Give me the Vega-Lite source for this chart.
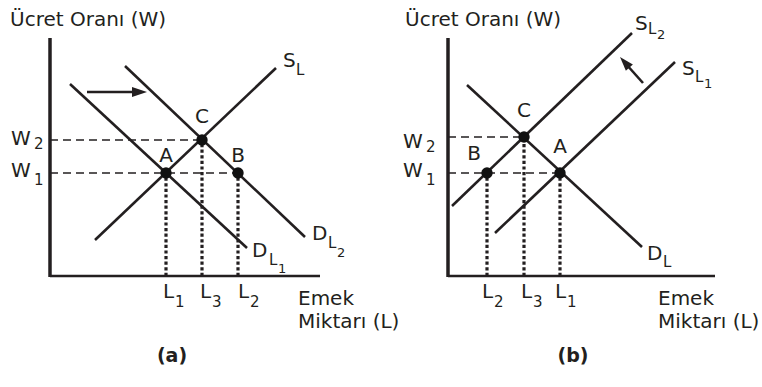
{
  "$schema": "https://vega.github.io/schema/vega-lite/v6.json",
  "autosize": {"type": "pad"},
  "padding": 0,
  "spacing": 0,
  "bounds": "flush",
  "background": "white",
  "config": {"view": {"stroke": null}, "font": "DejaVu Sans", "text": {"font": "DejaVu Sans", "color": "#231f20"}},
  "datasets": {
    "segments": [
      {"panel": "a", "kind": "curve", "x": 20, "y": 192, "x2": 197, "y2": 28},
      {"panel": "a", "kind": "curve", "x": 75, "y": 210, "x2": 255, "y2": 39},
      {"panel": "a", "kind": "curve", "x": 45, "y": 36, "x2": 226, "y2": 208},
      {"panel": "a", "kind": "curve", "x": 37, "y": 184, "x2": 88, "y2": 184},
      {"panel": "a", "kind": "axisY", "x": 0, "y": -1, "x2": 0, "y2": 238},
      {"panel": "a", "kind": "axisX", "x": 0, "y": 0, "x2": 270, "y2": 0},
      {"panel": "a", "kind": "dashed", "x": 0, "y": 136, "x2": 152, "y2": 136},
      {"panel": "a", "kind": "dashed", "x": 0, "y": 103, "x2": 188, "y2": 103},
      {"panel": "a", "kind": "dotted", "x": 116, "y": 0, "x2": 116, "y2": 103},
      {"panel": "a", "kind": "dotted", "x": 152, "y": 0, "x2": 152, "y2": 136},
      {"panel": "a", "kind": "dotted", "x": 188, "y": 0, "x2": 188, "y2": 103},
      {"panel": "b", "kind": "curve", "x": 19, "y": 191, "x2": 194, "y2": 29},
      {"panel": "b", "kind": "curve", "x": 4, "y": 70, "x2": 184, "y2": 243},
      {"panel": "b", "kind": "curve", "x": 47, "y": 43, "x2": 227, "y2": 214},
      {"panel": "b", "kind": "curve", "x": 195, "y": 193, "x2": 178, "y2": 212},
      {"panel": "b", "kind": "axisY", "x": 0, "y": -1, "x2": 0, "y2": 238},
      {"panel": "b", "kind": "axisX", "x": 0, "y": 0, "x2": 267, "y2": 0},
      {"panel": "b", "kind": "dashed", "x": 0, "y": 139, "x2": 76, "y2": 139},
      {"panel": "b", "kind": "dashed", "x": 0, "y": 103, "x2": 112, "y2": 103},
      {"panel": "b", "kind": "dotted", "x": 39, "y": 0, "x2": 39, "y2": 103},
      {"panel": "b", "kind": "dotted", "x": 76, "y": 0, "x2": 76, "y2": 139},
      {"panel": "b", "kind": "dotted", "x": 112, "y": 0, "x2": 112, "y2": 103}
    ],
    "points": [
      {"panel": "a", "name": "A", "x": 116, "y": 103},
      {"panel": "a", "name": "B", "x": 188, "y": 103},
      {"panel": "a", "name": "C", "x": 152, "y": 136},
      {"panel": "b", "name": "C", "x": 76, "y": 139},
      {"panel": "b", "name": "A", "x": 112, "y": 103},
      {"panel": "b", "name": "B", "x": 39, "y": 103}
    ],
    "heads": [
      {"panel": "a", "x": 97, "y": 184},
      {"panel": "b", "x": 172, "y": 219}
    ],
    "labels": [
      {"panel": "a", "kind": "main", "text": "Ücret Oranı (W)", "x": -40, "y": 250},
      {"panel": "a", "kind": "main", "text": "W", "x": -39, "y": 131},
      {"panel": "a", "kind": "main", "text": "W", "x": -39, "y": 99},
      {"panel": "a", "kind": "main", "text": "S", "x": 233, "y": 209},
      {"panel": "a", "kind": "main", "text": "D", "x": 202, "y": 19},
      {"panel": "a", "kind": "main", "text": "D", "x": 262, "y": 36},
      {"panel": "a", "kind": "main", "text": "L", "x": 113, "y": -22},
      {"panel": "a", "kind": "main", "text": "L", "x": 150, "y": -22},
      {"panel": "a", "kind": "main", "text": "L", "x": 188, "y": -22},
      {"panel": "a", "kind": "main", "text": "Emek", "x": 248, "y": -29},
      {"panel": "a", "kind": "main", "text": "Miktarı (L)", "x": 248, "y": -52},
      {"panel": "a", "kind": "sub1", "text": "2", "x": -16, "y": 127},
      {"panel": "a", "kind": "sub1", "text": "1", "x": -16, "y": 91},
      {"panel": "a", "kind": "sub1", "text": "L", "x": 246, "y": 201},
      {"panel": "a", "kind": "sub1", "text": "L", "x": 219, "y": 11},
      {"panel": "a", "kind": "sub1", "text": "L", "x": 278, "y": 28},
      {"panel": "a", "kind": "sub1", "text": "1", "x": 125, "y": -31},
      {"panel": "a", "kind": "sub1", "text": "3", "x": 162, "y": -31},
      {"panel": "a", "kind": "sub1", "text": "2", "x": 200, "y": -31},
      {"panel": "a", "kind": "sub2", "text": "1", "x": 228, "y": 3},
      {"panel": "a", "kind": "sub2", "text": "2", "x": 287, "y": 19},
      {"panel": "a", "kind": "point", "text": "A", "x": 116, "y": 114},
      {"panel": "a", "kind": "point", "text": "B", "x": 188, "y": 114},
      {"panel": "a", "kind": "point", "text": "C", "x": 152, "y": 153},
      {"panel": "a", "kind": "caption", "text": "(a)", "x": 122, "y": -86},
      {"panel": "b", "kind": "main", "text": "Ücret Oranı (W)", "x": -43, "y": 250},
      {"panel": "b", "kind": "main", "text": "W", "x": -45, "y": 128},
      {"panel": "b", "kind": "main", "text": "W", "x": -45, "y": 99},
      {"panel": "b", "kind": "main", "text": "S", "x": 187, "y": 246},
      {"panel": "b", "kind": "main", "text": "S", "x": 234, "y": 201},
      {"panel": "b", "kind": "main", "text": "D", "x": 199, "y": 16},
      {"panel": "b", "kind": "main", "text": "L", "x": 34, "y": -22},
      {"panel": "b", "kind": "main", "text": "L", "x": 73, "y": -22},
      {"panel": "b", "kind": "main", "text": "L", "x": 107, "y": -22},
      {"panel": "b", "kind": "main", "text": "Emek", "x": 210, "y": -29},
      {"panel": "b", "kind": "main", "text": "Miktarı (L)", "x": 210, "y": -52},
      {"panel": "b", "kind": "sub1", "text": "2", "x": -22, "y": 124},
      {"panel": "b", "kind": "sub1", "text": "1", "x": -22, "y": 91},
      {"panel": "b", "kind": "sub1", "text": "L", "x": 200, "y": 242},
      {"panel": "b", "kind": "sub1", "text": "L", "x": 247, "y": 194},
      {"panel": "b", "kind": "sub1", "text": "L", "x": 215, "y": 9},
      {"panel": "b", "kind": "sub1", "text": "2", "x": 46, "y": -31},
      {"panel": "b", "kind": "sub1", "text": "3", "x": 85, "y": -31},
      {"panel": "b", "kind": "sub1", "text": "1", "x": 119, "y": -31},
      {"panel": "b", "kind": "sub2", "text": "2", "x": 209, "y": 237},
      {"panel": "b", "kind": "sub2", "text": "1", "x": 256, "y": 188},
      {"panel": "b", "kind": "point", "text": "B", "x": 26, "y": 116},
      {"panel": "b", "kind": "point", "text": "C", "x": 76, "y": 159},
      {"panel": "b", "kind": "point", "text": "A", "x": 112, "y": 123},
      {"panel": "b", "kind": "caption", "text": "(b)", "x": 125, "y": -86}
    ]
  },
  "hconcat": [
    {
      "width": 381,
      "height": 387,
      "encoding": {
        "x": {"field": "x", "type": "quantitative", "scale": {"domain": [-50, 331], "nice": false, "zero": false}, "axis": null},
        "y": {"field": "y", "type": "quantitative", "scale": {"domain": [-111, 276], "nice": false, "zero": false}, "axis": null}
      },
      "layer": [
        {"data": {"name": "segments"}, "transform": [{"filter": "datum.panel == 'a' && datum.kind == 'curve'"}], "mark": {"type": "rule", "color": "#231f20", "strokeWidth": 2.6}, "encoding": {"x2": {"field": "x2"}, "y2": {"field": "y2"}}},
        {"data": {"name": "segments"}, "transform": [{"filter": "datum.panel == 'a' && datum.kind == 'axisY'"}], "mark": {"type": "rule", "color": "#231f20", "strokeWidth": 3.5}, "encoding": {"x2": {"field": "x2"}, "y2": {"field": "y2"}}},
        {"data": {"name": "segments"}, "transform": [{"filter": "datum.panel == 'a' && datum.kind == 'axisX'"}], "mark": {"type": "rule", "color": "#231f20", "strokeWidth": 2.5}, "encoding": {"x2": {"field": "x2"}, "y2": {"field": "y2"}}},
        {"data": {"name": "segments"}, "transform": [{"filter": "datum.panel == 'a' && datum.kind == 'dashed'"}], "mark": {"type": "rule", "color": "#231f20", "strokeWidth": 1.3, "strokeDash": [8, 5]}, "encoding": {"x2": {"field": "x2"}, "y2": {"field": "y2"}}},
        {"data": {"name": "segments"}, "transform": [{"filter": "datum.panel == 'a' && datum.kind == 'dotted'"}], "mark": {"type": "rule", "color": "#231f20", "strokeWidth": 3.2, "strokeDash": [3.2, 2.4]}, "encoding": {"x2": {"field": "x2"}, "y2": {"field": "y2"}}},
        {"data": {"name": "points"}, "transform": [{"filter": "datum.panel == 'a'"}], "mark": {"type": "point", "shape": "circle", "filled": true, "opacity": 1, "color": "#111", "size": 130}},
        {"data": {"name": "heads"}, "transform": [{"filter": "datum.panel == 'a'"}], "mark": {"type": "point", "shape": "M0,0L-1,-0.33L-1,0.33Z", "filled": true, "opacity": 1, "color": "#231f20", "size": 900, "angle": 0}},
        {"data": {"name": "labels"}, "transform": [{"filter": "datum.panel == 'a' && datum.kind == 'main'"}], "mark": {"type": "text", "align": "left", "baseline": "alphabetic", "fontSize": 20}, "encoding": {"text": {"field": "text"}}},
        {"data": {"name": "labels"}, "transform": [{"filter": "datum.panel == 'a' && datum.kind == 'sub1'"}], "mark": {"type": "text", "align": "left", "baseline": "alphabetic", "fontSize": 15}, "encoding": {"text": {"field": "text"}}},
        {"data": {"name": "labels"}, "transform": [{"filter": "datum.panel == 'a' && datum.kind == 'sub2'"}], "mark": {"type": "text", "align": "left", "baseline": "alphabetic", "fontSize": 13}, "encoding": {"text": {"field": "text"}}},
        {"data": {"name": "labels"}, "transform": [{"filter": "datum.panel == 'a' && datum.kind == 'point'"}], "mark": {"type": "text", "align": "center", "baseline": "alphabetic", "fontSize": 20}, "encoding": {"text": {"field": "text"}}},
        {"data": {"name": "labels"}, "transform": [{"filter": "datum.panel == 'a' && datum.kind == 'caption'"}], "mark": {"type": "text", "align": "center", "baseline": "alphabetic", "fontSize": 19, "fontWeight": "bold"}, "encoding": {"text": {"field": "text"}}}
      ]
    },
    {
      "width": 381,
      "height": 387,
      "encoding": {
        "x": {"field": "x", "type": "quantitative", "scale": {"domain": [-67, 314], "nice": false, "zero": false}, "axis": null},
        "y": {"field": "y", "type": "quantitative", "scale": {"domain": [-111, 276], "nice": false, "zero": false}, "axis": null}
      },
      "layer": [
        {"data": {"name": "segments"}, "transform": [{"filter": "datum.panel == 'b' && datum.kind == 'curve'"}], "mark": {"type": "rule", "color": "#231f20", "strokeWidth": 2.6}, "encoding": {"x2": {"field": "x2"}, "y2": {"field": "y2"}}},
        {"data": {"name": "segments"}, "transform": [{"filter": "datum.panel == 'b' && datum.kind == 'axisY'"}], "mark": {"type": "rule", "color": "#231f20", "strokeWidth": 3.5}, "encoding": {"x2": {"field": "x2"}, "y2": {"field": "y2"}}},
        {"data": {"name": "segments"}, "transform": [{"filter": "datum.panel == 'b' && datum.kind == 'axisX'"}], "mark": {"type": "rule", "color": "#231f20", "strokeWidth": 2.5}, "encoding": {"x2": {"field": "x2"}, "y2": {"field": "y2"}}},
        {"data": {"name": "segments"}, "transform": [{"filter": "datum.panel == 'b' && datum.kind == 'dashed'"}], "mark": {"type": "rule", "color": "#231f20", "strokeWidth": 1.3, "strokeDash": [8, 5]}, "encoding": {"x2": {"field": "x2"}, "y2": {"field": "y2"}}},
        {"data": {"name": "segments"}, "transform": [{"filter": "datum.panel == 'b' && datum.kind == 'dotted'"}], "mark": {"type": "rule", "color": "#231f20", "strokeWidth": 3.2, "strokeDash": [3.2, 2.4]}, "encoding": {"x2": {"field": "x2"}, "y2": {"field": "y2"}}},
        {"data": {"name": "points"}, "transform": [{"filter": "datum.panel == 'b'"}], "mark": {"type": "point", "shape": "circle", "filled": true, "opacity": 1, "color": "#111", "size": 130}},
        {"data": {"name": "heads"}, "transform": [{"filter": "datum.panel == 'b'"}], "mark": {"type": "point", "shape": "M0,0L-1,-0.33L-1,0.33Z", "filled": true, "opacity": 1, "color": "#231f20", "size": 800, "angle": 228.5}},
        {"data": {"name": "labels"}, "transform": [{"filter": "datum.panel == 'b' && datum.kind == 'main'"}], "mark": {"type": "text", "align": "left", "baseline": "alphabetic", "fontSize": 20}, "encoding": {"text": {"field": "text"}}},
        {"data": {"name": "labels"}, "transform": [{"filter": "datum.panel == 'b' && datum.kind == 'sub1'"}], "mark": {"type": "text", "align": "left", "baseline": "alphabetic", "fontSize": 15}, "encoding": {"text": {"field": "text"}}},
        {"data": {"name": "labels"}, "transform": [{"filter": "datum.panel == 'b' && datum.kind == 'sub2'"}], "mark": {"type": "text", "align": "left", "baseline": "alphabetic", "fontSize": 13}, "encoding": {"text": {"field": "text"}}},
        {"data": {"name": "labels"}, "transform": [{"filter": "datum.panel == 'b' && datum.kind == 'point'"}], "mark": {"type": "text", "align": "center", "baseline": "alphabetic", "fontSize": 20}, "encoding": {"text": {"field": "text"}}},
        {"data": {"name": "labels"}, "transform": [{"filter": "datum.panel == 'b' && datum.kind == 'caption'"}], "mark": {"type": "text", "align": "center", "baseline": "alphabetic", "fontSize": 19, "fontWeight": "bold"}, "encoding": {"text": {"field": "text"}}}
      ]
    }
  ]
}
